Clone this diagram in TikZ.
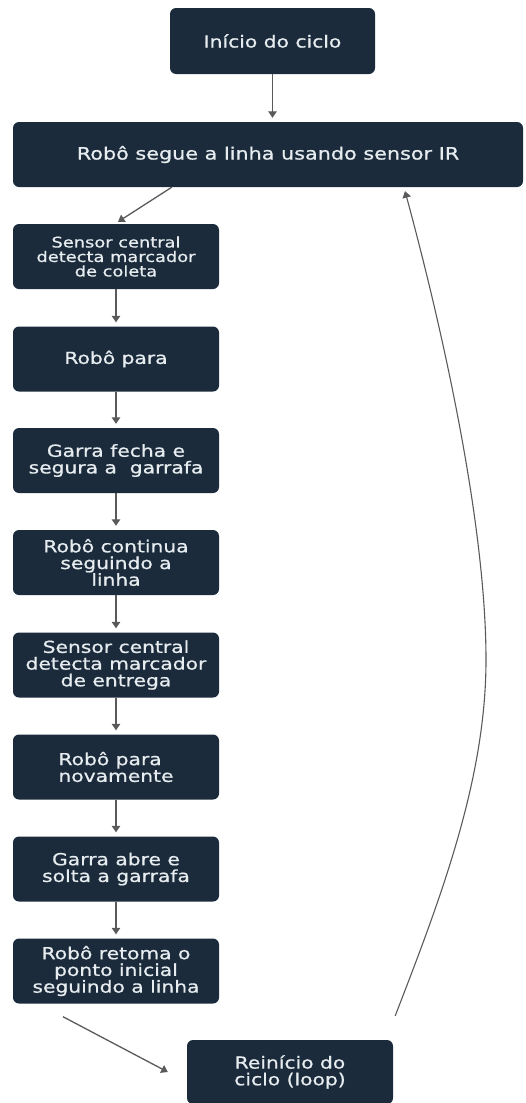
\documentclass[tikz,border=0pt]{standalone}
\usepackage{fontspec}
\usetikzlibrary{arrows.meta}
\newfontfamily\boxfont{DejaVu Sans}[FakeStretch=1.22,FakeBold=0.8]
\definecolor{boxfill}{HTML}{1B2B3B}
\definecolor{boxtext}{HTML}{E6ECEF}
\definecolor{arrowgray}{HTML}{5A5A5A}
\begin{document}
\begin{tikzpicture}[x=1pt,y=-1pt,
  stepbox/.style={rectangle, rounded corners=6pt, fill=boxfill, text=boxtext,
    inner sep=0pt, align=center, minimum width=206pt, minimum height=65pt,
    font=\boxfont\fontsize{16.6}{16.7}\selectfont},
  conn/.style={draw=arrowgray, line width=1.3pt,
    -{Triangle[length=6.5pt,width=8.5pt]}, shorten >=4pt}
]
\useasboundingbox (0,0) rectangle (525,1103);

\node[stepbox, minimum width=205pt, minimum height=66pt] (start) at (272.5,41) {Início do ciclo};
\node[stepbox, minimum width=510pt, minimum height=65pt, font=\boxfont\fontsize{17}{17}\selectfont] (follow) at (268,154.5) {Robô segue a linha usando sensor IR};
\node[stepbox, font=\boxfont\fontsize{14.6}{14.5}\selectfont] (s1) at (116,256.5) {Sensor central\\detecta marcador\\de coleta};
\node[stepbox] (s2) at (116,359) {Robô para};
\node[stepbox] (s3) at (116,460.5) {Garra fecha e\\segura a~ garrafa};
\node[stepbox] (s4) at (116,562.5) {Robô continua\\seguindo a\\linha};
\node[stepbox] (s5) at (116,665) {Sensor central\\detecta marcador\\de entrega};
\node[stepbox, align=left] (s6) at (116,767) {Robô para\\novamente};
\node[stepbox] (s7) at (116,869) {Garra abre e\\solta a garrafa};
\node[stepbox] (s8) at (116,971) {Robô retoma o\\ponto inicial\\seguindo a linha};
\node[stepbox, minimum height=64pt] (loop) at (290,1072) {Reinício do\\ciclo (loop)};

\draw[conn] (start.south) -- (start.south |- follow.north);
\draw[conn, shorten >=0pt] ([xshift=159pt]follow.south west) -- ([xshift=2pt,yshift=2pt]s1.north);
\draw[conn] (s1) -- (s2);
\draw[conn] (s2) -- (s3);
\draw[conn] (s3) -- (s4);
\draw[conn] (s4) -- (s5);
\draw[conn] (s5) -- (s6);
\draw[conn] (s6) -- (s7);
\draw[conn] (s7) -- (s8);

\coordinate (retA) at ([xshift=-53pt,yshift=-13pt]s8.south);
\coordinate (retB) at ([xshift=-19pt]loop.west);
\draw[conn, shorten >=0pt] (retA) -- (retB);

\coordinate (loopA) at ([xshift=2pt,yshift=24pt]loop.north east);
\coordinate (loopB) at ([xshift=137pt,yshift=-4pt]follow.south);
\draw[conn, shorten >=0pt, line width=1.1pt] (loopA) .. controls (440,900) and (486,780) .. (486,660)
  .. controls (486,520) and (440,320) .. (loopB);
\end{tikzpicture}
\end{document}
